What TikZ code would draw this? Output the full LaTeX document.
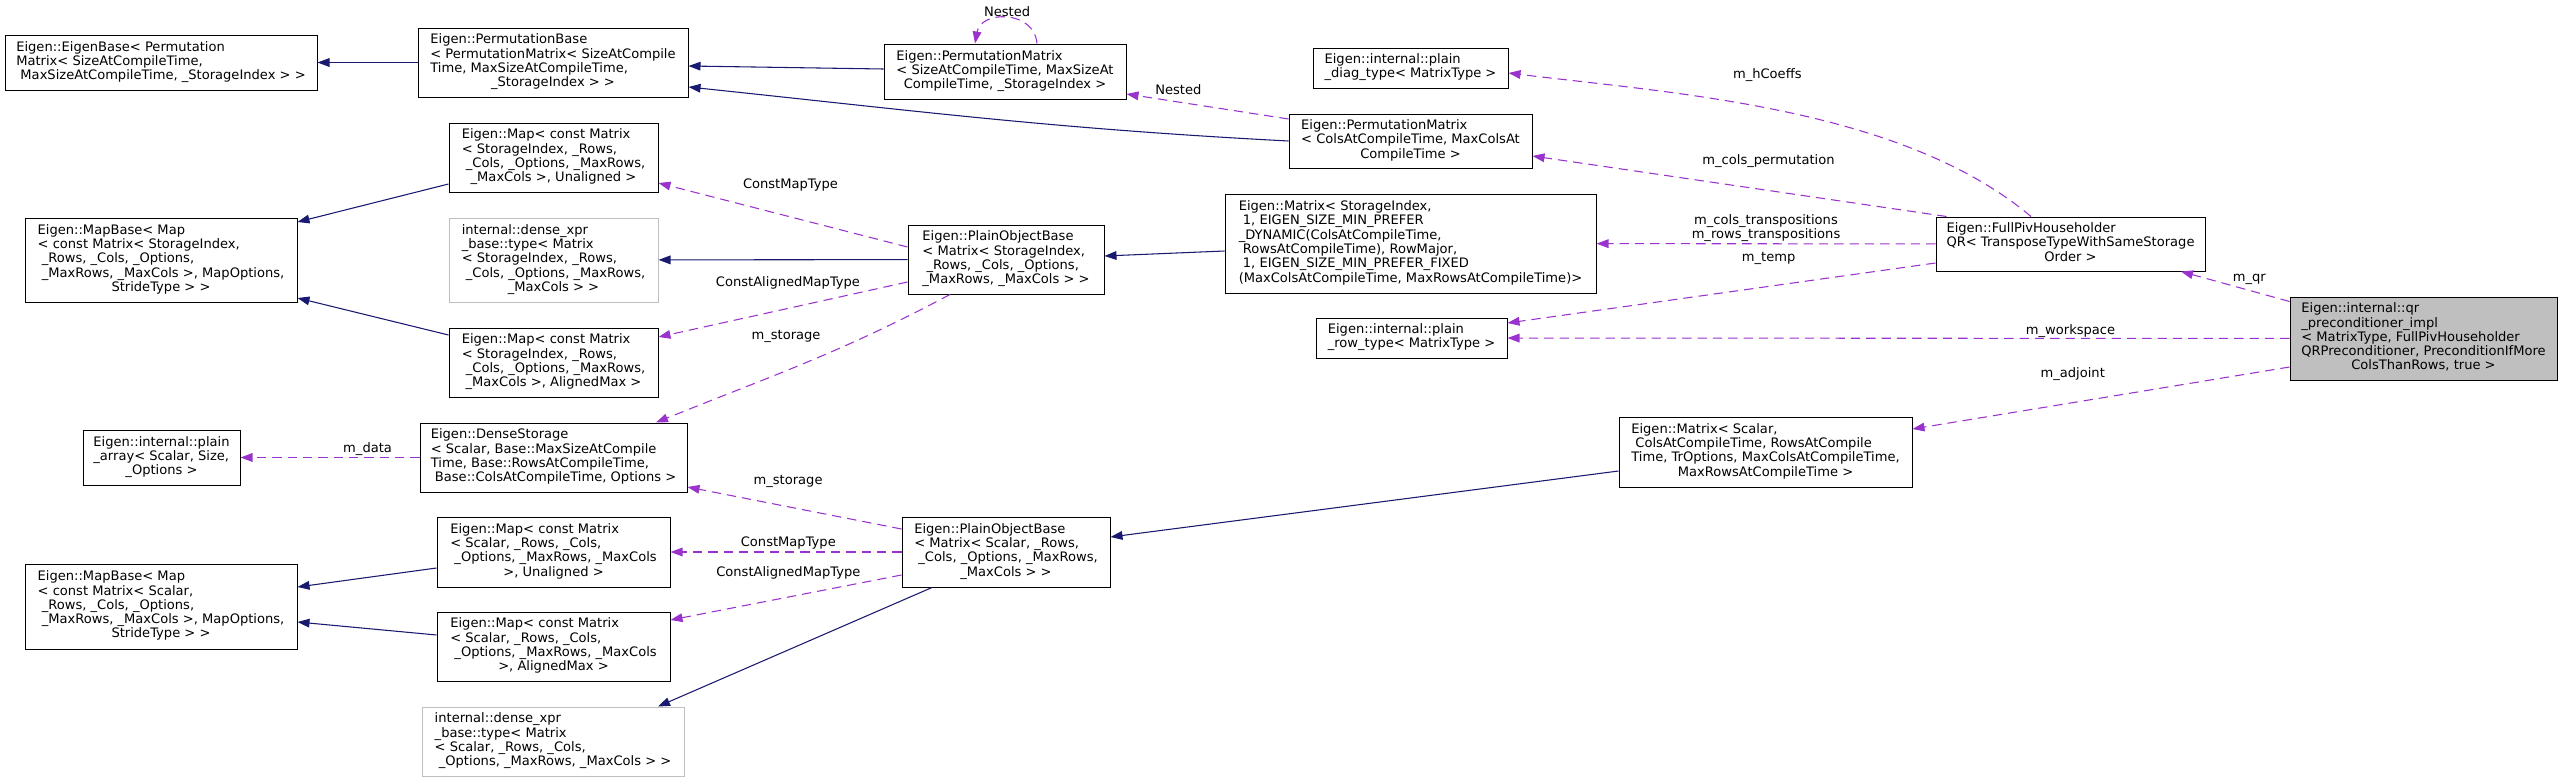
\documentclass[tikz,border=0pt]{standalone}
\usepackage{fontspec}
\setmainfont{DejaVu Sans}
\usepackage{tikz}
\usetikzlibrary{arrows.meta,calc}

\definecolor{inhblue}{RGB}{25,25,112}
\definecolor{usepurple}{RGB}{154,50,205}
\definecolor{grey75}{RGB}{191,191,191}

\newcommand{\cls}[2]{\begin{tabular}{@{}l@{}}#1\\\multicolumn{1}{@{}c@{}}{#2}\end{tabular}}

\begin{document}
\begin{tikzpicture}[x=0.75pt,y=0.75pt,font=\fontsize{9.8}{10.7}\selectfont,
  box/.style={draw=black,line width=0.75pt,fill=white,inner sep=2pt},
  undoc/.style={box,draw=grey75},
  main/.style={box,fill=grey75},
  wh/.style 2 args={minimum width=#1*0.75pt,minimum height=#2*0.75pt},
  inh/.style={color=inhblue,line width=0.8pt,-{Triangle[length=9pt,width=6.5pt]}},
  use/.style={color=usepurple,line width=0.8pt,dash pattern=on 7pt off 4.5pt,-{Triangle[length=9pt,width=6.5pt]}},
  lab/.style={inner sep=1pt,text=black}]

\useasboundingbox (0,0) rectangle (2563,-782);

\node[box,wh={312}{55}]   (EB)   at (161,-62.5)    {\cls{Eigen::EigenBase< Permutation\\Matrix< SizeAtCompileTime,}{\ MaxSizeAtCompileTime, \_StorageIndex > >}};
\node[box,wh={270}{69}]   (PB)   at (553,-62.5)    {\cls{Eigen::PermutationBase\\< PermutationMatrix< SizeAtCompile\\Time, MaxSizeAtCompileTime,}{\_StorageIndex > >}};
\node[box,wh={242}{55}]   (PMS)  at (1005,-71.5)   {\cls{Eigen::PermutationMatrix\\< SizeAtCompileTime, MaxSizeAt}{CompileTime, \_StorageIndex >}};
\node[box,wh={195}{40}]   (PD)   at (1410.5,-68)   {\cls{Eigen::internal::plain}{\_diag\_type< MatrixType >}};
\node[box,wh={243}{54}]   (PMC)  at (1410.5,-141)  {\cls{Eigen::PermutationMatrix\\< ColsAtCompileTime, MaxColsAt}{CompileTime >}};
\node[box,wh={209}{69}]   (MU1)  at (553.5,-157.5) {\cls{Eigen::Map< const Matrix\\< StorageIndex, \_Rows,\\\ \_Cols, \_Options, \_MaxRows,}{\_MaxCols >, Unaligned >}};
\node[box,wh={272}{84}]   (MB1)  at (161,-260)     {\cls{Eigen::MapBase< Map\\< const Matrix< StorageIndex,\\\ \_Rows, \_Cols, \_Options,\\\ \_MaxRows, \_MaxCols >, MapOptions,}{StrideType > >}};
\node[undoc,wh={209}{84}] (DX1)  at (553.5,-260)   {\cls{internal::dense\_xpr\\\_base::type< Matrix\\< StorageIndex, \_Rows,\\\ \_Cols, \_Options, \_MaxRows,}{\_MaxCols > >}};
\node[box,wh={196}{69}]   (POB1) at (1006,-259.5)  {\cls{Eigen::PlainObjectBase\\< Matrix< StorageIndex,\\\ \_Rows, \_Cols, \_Options,}{\_MaxRows, \_MaxCols > >}};
\node[box,wh={371}{99}]   (MSI)  at (1410.5,-243.5) {\cls{Eigen::Matrix< StorageIndex,\\\ 1, EIGEN\_SIZE\_MIN\_PREFER\\\_DYNAMIC(ColsAtCompileTime,\\\ RowsAtCompileTime), RowMajor,\\\ 1, EIGEN\_SIZE\_MIN\_PREFER\_FIXED}{(MaxColsAtCompileTime, MaxRowsAtCompileTime)>}};
\node[box,wh={269}{54}]   (FP)   at (2070.5,-244)  {\cls{Eigen::FullPivHouseholder\\QR< TransposeTypeWithSameStorage}{Order >}};
\node[box,wh={191}{40}]   (PR)   at (1411.5,-338)  {\cls{Eigen::internal::plain}{\_row\_type< MatrixType >}};
\node[main,wh={267}{83}]  (QR)   at (2423.5,-338.5) {\cls{Eigen::internal::qr\\\_preconditioner\_impl\\< MatrixType, FullPivHouseholder\\QRPreconditioner, PreconditionIfMore}{ColsThanRows, true >}};
\node[box,wh={209}{69}]   (MA1)  at (553.5,-362.5) {\cls{Eigen::Map< const Matrix\\< StorageIndex, \_Rows,\\\ \_Cols, \_Options, \_MaxRows,}{\_MaxCols >, AlignedMax >}};
\node[box,wh={157}{55}]   (PA)   at (161.5,-457.5) {\cls{Eigen::internal::plain\\\_array< Scalar, Size,}{\_Options >}};
\node[box,wh={267}{69}]   (DS)   at (553.5,-457.5) {\cls{Eigen::DenseStorage\\< Scalar, Base::MaxSizeAtCompile\\Time, Base::RowsAtCompileTime,}{\ Base::ColsAtCompileTime, Options >}};
\node[box,wh={293}{70}]   (MS)   at (1765.5,-452)  {\cls{Eigen::Matrix< Scalar,\\\ ColsAtCompileTime, RowsAtCompile\\Time, TrOptions, MaxColsAtCompileTime,}{MaxRowsAtCompileTime >}};
\node[box,wh={233}{70}]   (MU2)  at (553.5,-552)   {\cls{Eigen::Map< const Matrix\\< Scalar, \_Rows, \_Cols,\\\ \_Options, \_MaxRows, \_MaxCols}{>, Unaligned >}};
\node[box,wh={208}{70}]   (POB2) at (1006,-552)    {\cls{Eigen::PlainObjectBase\\< Matrix< Scalar, \_Rows,\\\ \_Cols, \_Options, \_MaxRows,}{\_MaxCols > >}};
\node[box,wh={272}{85}]   (MB2)  at (161,-606.5)   {\cls{Eigen::MapBase< Map\\< const Matrix< Scalar,\\\ \_Rows, \_Cols, \_Options,\\\ \_MaxRows, \_MaxCols >, MapOptions,}{StrideType > >}};
\node[box,wh={233}{69}]   (MA2)  at (553.5,-646.5) {\cls{Eigen::Map< const Matrix\\< Scalar, \_Rows, \_Cols,\\\ \_Options, \_MaxRows, \_MaxCols}{>, AlignedMax >}};
\node[undoc,wh={262}{69}] (DX2)  at (553,-741.5)   {\cls{internal::dense\_xpr\\\_base::type< Matrix\\< Scalar, \_Rows, \_Cols,}{\ \_Options, \_MaxRows, \_MaxCols > >}};

% inheritance
\path[inh]
      (PB) edge (EB)
      ($(PMS.west)+(0,2.5)$) edge ($(PB.east)+(0,-3.5)$)
      (PMC.west) edge [out=177,in=-6] ($(PB.east)+(0,-24.5)$)
      ($(MU1.west)+(0,-26.5)$) edge ($(MB1.east)+(0,38)$)
      ($(MA1.west)+(0,27.5)$) edge ($(MB1.east)+(0,-38)$)
      (POB1) edge (DX1)
      ($(MSI.west)+(0,-7.5)$) edge ($(POB1.east)+(0,3.5)$)
      ($(MU2.west)+(0,-16)$) edge ($(MB2.east)+(0,19.5)$)
      ($(MA2.west)+(0,11.5)$) edge ($(MB2.east)+(0,-15.5)$)
      ($(POB2.south)+(-74,0)$) edge ($(DX2.north)+(105,0)$)
      ($(MS.west)+(0,-19)$) edge ($(POB2.east)+(0,15)$);

% members
\path[use]
      ($(PMS.north)+(32,0)$) edge [out=95,in=80,looseness=1.4] node[lab,above] {Nested} ($(PMS.north)+(-30,0)$)
      ($(PMC.west)+(0,22)$) edge node[lab,pos=.68,yshift=9pt] {Nested} ($(PMS.east)+(0,-22.5)$)
      ($(POB1.west)+(0,12.5)$) edge node[lab,pos=.47,yshift=23.8pt] {ConstMapType} ($(MU1.east)+(0,-25.5)$)
      ($(POB1.west)+(0,-22.5)$) edge node[lab,pos=.48,yshift=19pt] {ConstAlignedMapType} ($(MA1.east)+(0,25.5)$)
      ($(POB1.south)+(-56,0)$) edge [out=208,in=22] node[lab,pos=.57,yshift=26pt] {m\_storage} ($(DS.north)+(102.5,0)$)
      ($(POB2.west)+(0,23)$) edge node[lab,pos=.53,yshift=19.3pt] {m\_storage} ($(DS.east)+(0,-29.5)$)
      (DS) edge node[lab,pos=.29,yshift=6pt] {m\_data} (PA)
      (POB2) edge node[lab,pos=.49,yshift=6.75pt] {ConstMapType} (MU2)
      ($(POB2.west)+(0,-23)$) edge node[lab,pos=.49,yshift=18pt] {ConstAlignedMapType} ($(MA2.east)+(0,26.5)$)
      ($(FP.north)+(-39.5,0)$) edge [out=140,in=-7,looseness=.8] node[lab,pos=.53,yshift=25pt] {m\_hCoeffs} ($(PD.east)+(0,-5)$)
      ($(FP.north west)+(11,0)$) edge node[lab,pos=.43,yshift=22pt] {m\_cols\_permutation} ($(PMC.east)+(0,-15)$)
      (FP) edge node[lab,align=center,pos=.5,yshift=11.6pt] {m\_cols\_transpositions\\m\_rows\_transpositions} (MSI)
      ($(FP.west)+(0,-19)$) edge node[lab,pos=.39,yshift=20.6pt] {m\_temp} ($(PR.east)+(0,15)$)
      (QR) edge node[lab,pos=.28,yshift=5.6pt] {m\_workspace} (PR)
      ($(QR.north west)+(0,-5)$) edge node[lab,pos=.37,yshift=7.9pt] {m\_qr} ($(FP.south)+(110.5,0)$)
      ($(QR.west)+(0,-28.5)$) edge node[lab,pos=.575,yshift=21.5pt] {m\_adjoint} ($(MS.east)+(0,23)$);
\end{tikzpicture}
\end{document}
